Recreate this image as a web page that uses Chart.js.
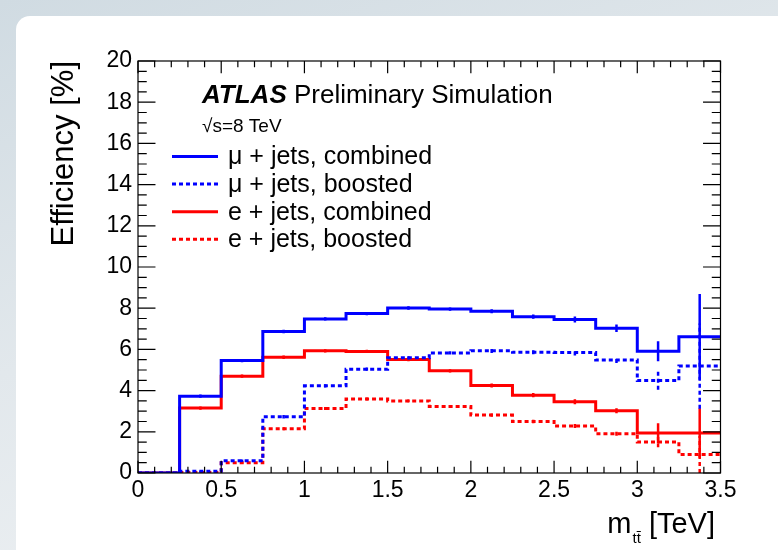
<!DOCTYPE html>
<html>
<head>
<meta charset="utf-8">
<script src="https://cdn.jsdelivr.net/npm/chart.js@4.4.0/dist/chart.umd.min.js"></script>
<style>
  html, body { margin: 0; padding: 0; }
  body {
    width: 778px; height: 550px; overflow: hidden; position: relative;
    background: linear-gradient(160deg, #d0dbe2 0%, #e2e8ec 45%, #f2f4f6 100%);
  }
  .panel {
    position: absolute; left: 16px; top: 16px; right: 0; bottom: 0;
    background: #fff; border-top-left-radius: 14px;
  }
  #chart { position: absolute; left: 0; top: 0; }
</style>
</head>
<body>
<div class="panel"></div>
<canvas id="chart" width="778" height="550"></canvas>
<script>
// m_ttbar bin edges in TeV
const binEdges = [0, 0.25, 0.5, 0.75, 1.0, 1.25, 1.5, 1.75, 2.0, 2.25, 2.5, 2.75, 3.0, 3.25, 3.5];

// efficiencies in % per bin, with their uncertainties
const muCombined    = [0, 3.73, 5.46, 6.87, 7.48, 7.74, 8.01, 7.96, 7.85, 7.59, 7.45, 7.03, 5.91, 6.61];
const muCombinedErr = [0, 0.08, 0.08, 0.08, 0.08, 0.08, 0.08, 0.08, 0.10, 0.10, 0.15, 0.18, 0.48, 2.08];
const muBoosted     = [0, 0.08, 0.60, 2.73, 4.23, 5.04, 5.59, 5.83, 5.93, 5.86, 5.85, 5.49, 4.49, 5.19];
const muBoostedErr  = [0, 0.03, 0.06, 0.08, 0.08, 0.08, 0.08, 0.08, 0.10, 0.10, 0.15, 0.15, 0.45, 2.07];
const eCombined     = [0, 3.15, 4.70, 5.62, 5.93, 5.90, 5.51, 4.96, 4.25, 3.78, 3.46, 3.02, 1.94, 1.94];
const eCombinedErr  = [0, 0.08, 0.08, 0.08, 0.08, 0.08, 0.08, 0.08, 0.10, 0.10, 0.12, 0.12, 0.48, 1.20];
const eBoosted      = [0, 0.03, 0.50, 2.15, 3.13, 3.59, 3.50, 3.23, 2.81, 2.50, 2.28, 1.91, 1.50, 0.90];
const eBoostedErr   = [0, 0.02, 0.05, 0.07, 0.07, 0.07, 0.07, 0.07, 0.08, 0.08, 0.10, 0.10, 0.25, 0.90];

const seriesLabels = ["\u03bc + jets, combined", "\u03bc + jets, boosted", "e + jets, combined", "e + jets, boosted"];

const xRange = [0, 3.5];
const yRange = [0, 20];

const FONT = '"Liberation Sans", Arial, Helvetica, sans-serif';
const BLUE = "#0000ff";
const RED = "#ff0000";
const DASH = [4, 3];

// histogram outline: one point per left bin edge, closed at the last edge
function histPoints(vals) {
  const pts = vals.map((v, i) => ({ x: binEdges[i], y: v }));
  pts.push({ x: binEdges[binEdges.length - 1], y: vals[vals.length - 1] });
  return pts;
}

// vertical error bars at bin centres, separated by gaps
function errPoints(vals, errs) {
  const pts = [];
  vals.forEach((v, i) => {
    if (!errs[i]) return;
    const c = (binEdges[i] + binEdges[i + 1]) / 2;
    pts.push({ x: c, y: v - errs[i] }, { x: c, y: v + errs[i] }, { x: c, y: null });
  });
  return pts;
}

function histSet(label, vals, color, dash) {
  return {
    label, data: histPoints(vals), borderColor: color, borderWidth: 3,
    borderDash: dash, stepped: "before", pointRadius: 0, fill: false, inLegend: true
  };
}

function errSet(vals, errs, color, dash) {
  return {
    label: "", data: errPoints(vals, errs), borderColor: color, borderWidth: 2.5,
    borderDash: dash, pointRadius: 0, spanGaps: false, fill: false
  };
}

const atlasDecor = {
  id: "atlasDecor",
  afterDatasetsDraw(chart) {
    const { ctx, chartArea: a, scales: { x, y } } = chart;
    ctx.save();

    // frame and ticks on all four sides
    ctx.strokeStyle = "#000";
    ctx.lineWidth = 1.2;
    ctx.strokeRect(a.left, a.top, a.right - a.left, a.bottom - a.top);
    const xLen = (a.bottom - a.top) * 0.03;
    const yLen = (a.right - a.left) * 0.03;
    ctx.beginPath();
    for (let i = 0; i <= 35; i++) {
      const px = x.getPixelForValue(i / 10);
      const len = i % 5 === 0 ? xLen : xLen / 2;
      ctx.moveTo(px, a.bottom); ctx.lineTo(px, a.bottom - len);
      ctx.moveTo(px, a.top); ctx.lineTo(px, a.top + len);
    }
    for (let i = 0; i <= 40; i++) {
      const py = y.getPixelForValue(i / 2);
      const len = i % 4 === 0 ? yLen : yLen / 2;
      ctx.moveTo(a.left, py); ctx.lineTo(a.left + len, py);
      ctx.moveTo(a.right, py); ctx.lineTo(a.right - len, py);
    }
    ctx.stroke();

    ctx.fillStyle = "#000";
    ctx.textAlign = "left";
    ctx.textBaseline = "alphabetic";

    // ATLAS label
    ctx.font = "italic bold 26px " + FONT;
    ctx.fillText("ATLAS", 202, 103);
    const w = ctx.measureText("ATLAS").width;
    ctx.font = "26px " + FONT;
    ctx.fillText(" Preliminary Simulation", 202 + w, 103);
    ctx.font = "19px " + FONT;
    ctx.fillText("\u221as=8 TeV", 202, 132);

    // legend
    const sets = chart.data.datasets.filter(d => d.inLegend);
    sets.forEach((d, i) => {
      const ly = 156.5 + i * 27.6;
      ctx.beginPath();
      ctx.strokeStyle = d.borderColor;
      ctx.lineWidth = 3;
      ctx.setLineDash(d.borderDash || []);
      ctx.moveTo(172, ly); ctx.lineTo(218, ly);
      ctx.stroke();
      ctx.setLineDash([]);
      ctx.font = "25px " + FONT;
      ctx.textBaseline = "middle";
      ctx.fillText(d.label, 228, ly + 1);
    });
    ctx.textBaseline = "alphabetic";

    // y title, aligned to the top of the axis
    ctx.save();
    ctx.translate(73, a.top);
    ctx.rotate(-Math.PI / 2);
    ctx.textAlign = "right";
    ctx.font = "31px " + FONT;
    ctx.fillText("Efficiency [%]", 0, 0);
    ctx.restore();

    // x title m_{tt-bar} [TeV], aligned to the right end of the axis
    ctx.font = "29px " + FONT;
    const wm = ctx.measureText("m").width;
    const wRest = ctx.measureText(" [TeV]").width;
    ctx.font = "15px " + FONT;
    const wt = ctx.measureText("t").width;
    const wSub = wt * 2;
    const x0 = 714 - wm - wSub - wRest;
    const base = 533;
    ctx.font = "29px " + FONT;
    ctx.fillText("m", x0, base);
    ctx.font = "15px " + FONT;
    ctx.fillText("tt", x0 + wm + 1, base + 10);
    ctx.beginPath();
    ctx.strokeStyle = "#000";
    ctx.lineWidth = 1;
    ctx.moveTo(x0 + wm + 1 + wt, base - 1.5);
    ctx.lineTo(x0 + wm + 1 + 2 * wt, base - 1.5);
    ctx.stroke();
    ctx.font = "29px " + FONT;
    ctx.fillText(" [TeV]", x0 + wm + wSub + 1, base);

    ctx.restore();
  }
};

new Chart(document.getElementById("chart"), {
  type: "line",
  data: {
    datasets: [
      histSet(seriesLabels[0], muCombined, BLUE, []),
      errSet(muCombined, muCombinedErr, BLUE, []),
      histSet(seriesLabels[1], muBoosted, BLUE, DASH),
      errSet(muBoosted, muBoostedErr, BLUE, DASH),
      histSet(seriesLabels[2], eCombined, RED, []),
      errSet(eCombined, eCombinedErr, RED, []),
      histSet(seriesLabels[3], eBoosted, RED, DASH),
      errSet(eBoosted, eBoostedErr, RED, DASH)
    ]
  },
  options: {
    responsive: false,
    animation: false,
    layout: { padding: { left: 0, top: 61, right: 57.5, bottom: 0 } },
    plugins: { legend: { display: false }, tooltip: { enabled: false } },
    scales: {
      x: {
        type: "linear", min: xRange[0], max: xRange[1],
        grid: { display: false, drawTicks: false },
        border: { display: false },
        ticks: {
          stepSize: 0.5, padding: 4, color: "#000", maxRotation: 0,
          font: { family: FONT, size: 23 },
          callback: v => String(+v.toFixed(2))
        },
        afterFit(scale) { scale.height = 77; }
      },
      y: {
        min: yRange[0], max: yRange[1],
        grid: { display: false, drawTicks: false },
        border: { display: false },
        ticks: {
          stepSize: 2, padding: 6, color: "#000",
          font: { family: FONT, size: 23 },
          callback: v => String(v)
        },
        afterFit(scale) { scale.width = 138; }
      }
    }
  },
  plugins: [atlasDecor]
});
</script>
</body>
</html>
